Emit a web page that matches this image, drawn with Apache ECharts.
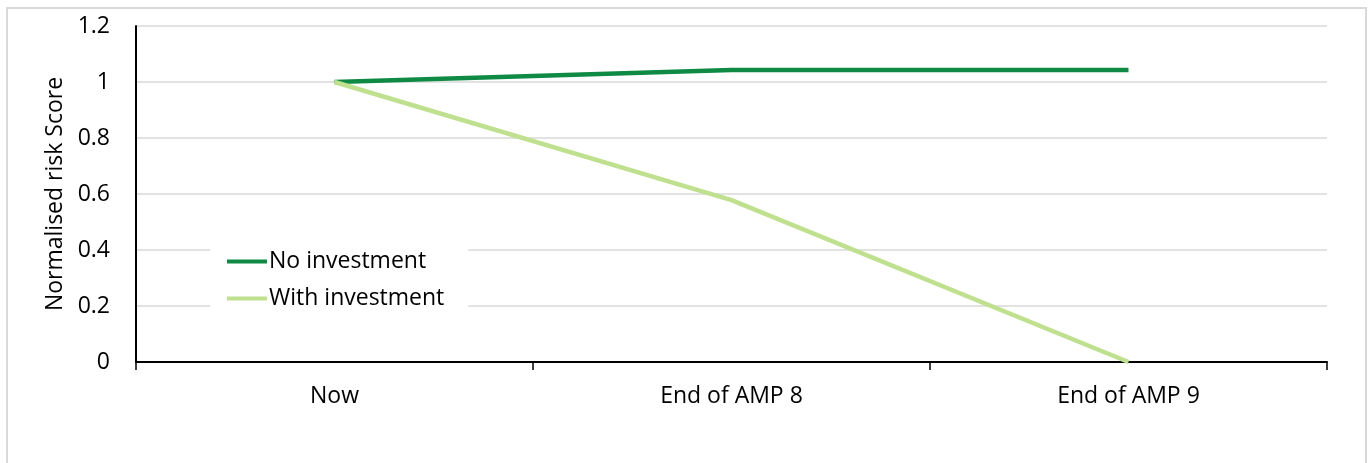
<!DOCTYPE html>
<html><head><meta charset="utf-8">
<script src="https://cdn.jsdelivr.net/npm/echarts@6/dist/echarts.min.js"></script>
<style>html,body{margin:0;padding:0;background:#fff}#c{width:1370px;height:463px}</style>
</head><body><div id="c"></div>
<script>
const categories = ['Now', 'End of AMP 8', 'End of AMP 9'];
const noInvestment = [1, 1.043, 1.043];
const withInvestment = [1, 0.578, 0];
const yTicks = [0, 0.2, 0.4, 0.6, 0.8, 1, 1.2];
const FONT = 'Open Sans';
const FS = 23;
const chart = echarts.init(document.getElementById('c'));
chart.setOption({
  animation: false,
  graphic: [{type:'rect', shape:{x:7,y:8,width:1359,height:480}, style:{fill:'none', stroke:'#d9d9d9', lineWidth:2}, z:-1}],
  grid: {left:136, right:43, top:26, bottom:101},
  legend: {
    orient:'vertical', left:210, top:246, itemWidth:40, itemHeight:4, itemGap:14, icon:'rect',
    backgroundColor:'#fff', padding:[4,24,4,17],
    textStyle:{fontFamily:FONT, fontSize:FS, color:'#000', padding:[0,0,0,-3]},
    data:['No investment','With investment']
  },
  xAxis: {
    type:'category', data:categories, boundaryGap:true,
    axisLine:{lineStyle:{color:'#000', width:2}},
    axisTick:{show:true, length:8, lineStyle:{color:'#000', width:1.5}},
    axisLabel:{fontFamily:FONT, fontSize:FS, color:'#000', margin:23}
  },
  yAxis: {
    type:'value', min:0, max:1.2, interval:0.2,
    name:'Normalised risk Score', nameLocation:'middle', nameRotate:90, nameGap:68,
    nameTextStyle:{fontFamily:FONT, fontSize:FS, color:'#000'},
    axisLine:{show:true, lineStyle:{color:'#000', width:2}},
    axisTick:{show:false},
    axisLabel:{fontFamily:FONT, fontSize:FS, color:'#000', margin:26, formatter:v=>String(+v.toFixed(1))},
    splitLine:{lineStyle:{color:'#d9d9d9', width:1.5}}
  },
  series: [
    {name:'No investment', type:'line', data:noInvestment, symbol:'none', lineStyle:{color:'#0e8a45', width:4.5}, itemStyle:{color:'#0e8a45'}},
    {name:'With investment', type:'line', data:withInvestment, symbol:'none', lineStyle:{color:'#bfe08e', width:4.5}, itemStyle:{color:'#bfe08e'}}
  ]
});
</script></body></html>
